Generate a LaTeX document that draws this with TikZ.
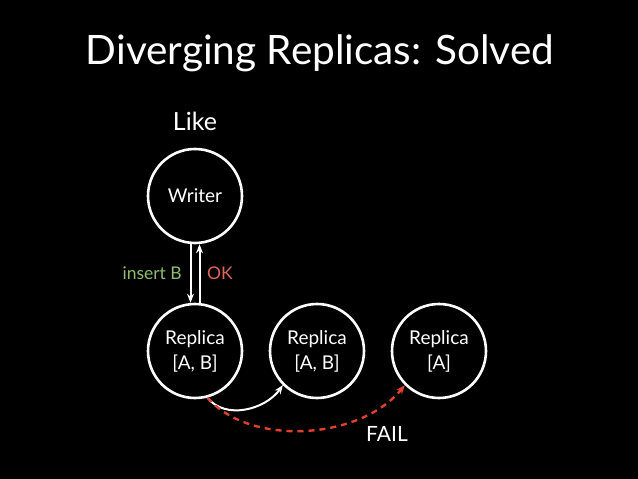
\documentclass[tikz,border=0pt]{standalone}
\usepackage{fontspec}
\setmainfont{Lato}
\usetikzlibrary{arrows.meta}
\definecolor{okred}{HTML}{E0655A}
\definecolor{insgreen}{HTML}{8DBE6E}
\definecolor{failred}{HTML}{E0402E}
\tikzset{
  x=1pt, y=-1pt,
  srv/.style={circle, draw=white, line width=2.6pt, minimum size=94pt, inner sep=0pt, text=white, font=\fontsize{19}{25}\selectfont, align=center},
  conn/.style={draw=white, line width=2pt, -{Stealth[length=9pt,width=7pt]}},
  failconn/.style={draw=failred, line width=2.4pt, dash pattern=on 6pt off 5pt, -{Stealth[length=9pt,width=7pt]}},
  lbl/.style={inner sep=0pt}
}
\begin{document}
\begin{tikzpicture}
\fill[black] (0,0) rectangle (638,479);
\useasboundingbox (0,0) rectangle (638,479);
\node[lbl, text=white, font=\fontsize{40.5}{46}\selectfont] (title) at (320,53) {Diverging Replicas: Solved};
\node[lbl, text=white, font=\fontsize{25}{30}\selectfont] (like) at (195,121) {Like};
\node[srv] (w) at (195,196) {Writer};
\node[srv] (r1) at (195,351) {Replica\\{}[A, B]};
\node[srv] (r2) at (317,351) {Replica\\{}[A, B]};
\node[srv] (r3) at (439,351) {Replica\\{}[A]};
\draw[conn] ([xshift=-4.5pt]w.south) -- ([xshift=-4.5pt]w.south |- r1.north);
\draw[conn] ([xshift=4.5pt]r1.north) -- ([xshift=4.5pt]r1.north |- w.south);
\node[lbl, text=insgreen, font=\fontsize{17.5}{21}\selectfont, anchor=east] (ins) at (182,273) {insert B};
\node[lbl, text=okred, font=\fontsize{17.5}{21}\selectfont, anchor=west] (ok) at (207,273) {OK};
\draw[conn] (r1.-75) .. controls (225,420) and (265,410) .. (r2.-135);
\draw[failconn] (r1.-75) .. controls (250,447) and (360,440) .. (r3.-135);
\node[lbl, text=white, font=\fontsize{21}{25}\selectfont] (fail) at (387,434) {FAIL};
\end{tikzpicture}
\end{document}
